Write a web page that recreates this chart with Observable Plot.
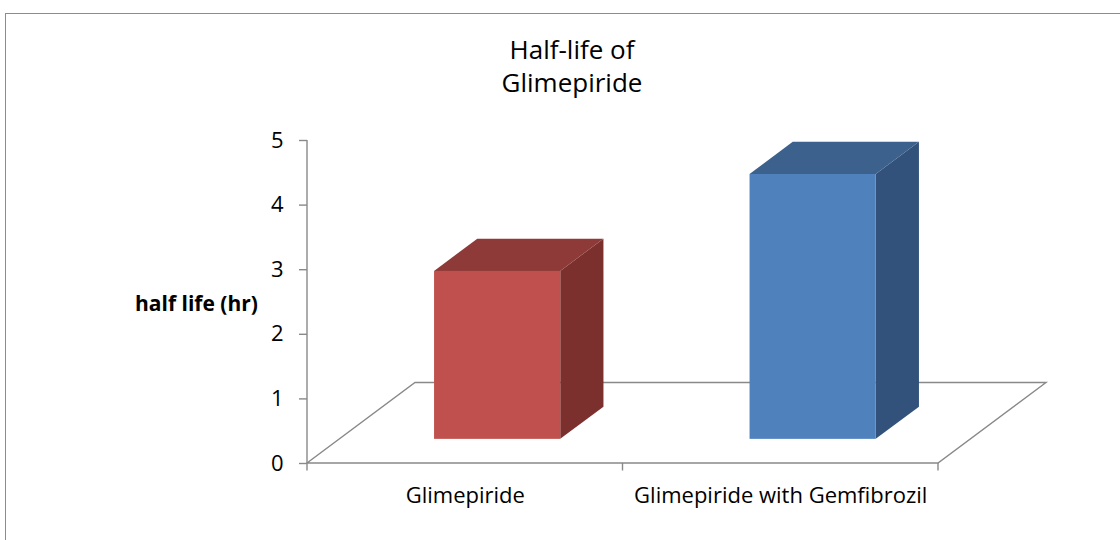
<!DOCTYPE html>
<html>
<head>
<meta charset="utf-8">
<script src="https://cdn.jsdelivr.net/npm/d3@7"></script>
<script src="https://cdn.jsdelivr.net/npm/@observablehq/plot@0.6"></script>
<style>
  body { margin: 0; background: #fff; font-family: "Open Sans", sans-serif; }
  #wrap { position: relative; width: 1120px; height: 540px; overflow: hidden; background: #fff; }
  #border { position: absolute; left: 5px; top: 13px; width: 1300px; height: 700px;
            border-left: 1.5px solid #8c8c8c; border-top: 1.5px solid #8c8c8c; box-sizing: border-box; }
  #title { position: absolute; left: 572px; top: 33px; transform: translateX(-50%);
           font-size: 26px; line-height: 33px; text-align: center; color: #000; white-space: nowrap; }
  #chart { position: absolute; left: 0; top: 0; }
</style>
</head>
<body>
<div id="wrap">
  <div id="border"></div>
  <div id="chart"></div>
  <div id="title">Half-life of<br>Glimepiride</div>
</div>
<script>
// ---- data ----
const categories = ["Glimepiride", "Glimepiride with Gemfibrozil"];
const halfLife = [2.6, 4.1];
const yTicks = [0, 1, 2, 3, 4, 5];
const yLabel = ["half life (hr)"];
const frontColors = ["#C0504D", "#4F81BD"];
const topColors = ["#8E3A38", "#3D618D"];
const sideColors = ["#7B302E", "#32527B"];

const data = categories.map((c, i) => ({
  category: c, value: halfLife[i],
  front: frontColors[i], top: topColors[i], side: sideColors[i]
}));

// ---- layout ----
const W = 1120, H = 540, ML = 307, MR = 182, MT = 140, MB = 77;
const DX = 108, DY = -80.5;          // floor depth offset (oblique projection)
const F0 = 0.3, FW = 0.4;            // bar depth start / depth width (fraction of floor depth)
const BAR = 0.4;                      // bar width fraction of band
const BW = (W - ML - MR) / categories.length;
const GRID = "#898989";

function floorMark(index, scales, values, dims) {
  const x = scales.x, y = scales.y;
  const x0 = dims.marginLeft, x1 = dims.width - dims.marginRight;
  const y0 = y(0), yTop = y(yTicks[yTicks.length - 1]);
  const g = d3.create("svg:g").attr("fill", "none").attr("stroke", GRID).attr("stroke-width", 1.4);
  const pts = [[x0, y0], [x1, y0], [x1 + DX, y0 + DY], [x0 + DX, y0 + DY]];
  g.append("path").attr("d", "M" + pts.map(p => p.join(",")).join("L") + "Z");
  g.append("line").attr("x1", x0).attr("x2", x0).attr("y1", y0).attr("y2", yTop);
  const bounds = categories.map(c => x(c)).concat([x1]);
  for (const b of bounds) {
    g.append("line").attr("x1", b).attr("x2", b).attr("y1", y0).attr("y2", y0 + 7.5);
  }
  return g.node();
}

function barFaces(index, scales) {
  const x = scales.x, y = scales.y;
  const bw = x.bandwidth ? x.bandwidth() : BW;
  const g = d3.create("svg:g");
  const ddx = DX * FW, ddy = DY * FW;
  for (const d of data) {
    const xl = x(d.category) + bw * (1 - BAR) / 2 + DX * F0;
    const xr = xl + bw * BAR;
    const yb = y(0) + DY * F0, yt = y(d.value) + DY * F0;
    const side = [[xr, yt], [xr + ddx, yt + ddy], [xr + ddx, yb + ddy], [xr, yb]];
    const top = [[xl, yt], [xl + ddx, yt + ddy], [xr + ddx, yt + ddy], [xr, yt]];
    g.append("path").attr("fill", d.side).attr("d", "M" + side.map(p => p.join(",")).join("L") + "Z");
    g.append("path").attr("fill", d.top).attr("d", "M" + top.map(p => p.join(",")).join("L") + "Z");
  }
  return g.node();
}

const chart = Plot.plot({
  width: W, height: H,
  marginLeft: ML, marginRight: MR, marginTop: MT, marginBottom: MB,
  style: { fontFamily: "Open Sans", color: "#000", background: "transparent", overflow: "visible" },
  x: { type: "band", domain: categories, padding: 0, round: false },
  y: { domain: [0, 5] },
  color: { type: "identity" },
  marks: [
    floorMark,
    barFaces,
    Plot.barY(data, {
      x: "category", y: "value", fill: "front",
      insetLeft: BW * (1 - BAR) / 2, insetRight: BW * (1 - BAR) / 2,
      dx: DX * F0, dy: DY * F0
    }),
    Plot.axisY({ ticks: yTicks, tickFormat: d => String(d), tickSize: 8, tickPadding: 16,
                 fontSize: 22, stroke: GRID, strokeWidth: 1.4, label: null }),
    Plot.axisX({ tickSize: 0, tickPadding: 24, fontSize: 22, label: null }),
    Plot.text(yLabel, { text: d => d, frameAnchor: "left", dx: -111, dy: 2,
                        textAnchor: "middle", fontWeight: "bold", fontSize: 21 })
  ]
});
document.getElementById("chart").appendChild(chart);
</script>
</body>
</html>
